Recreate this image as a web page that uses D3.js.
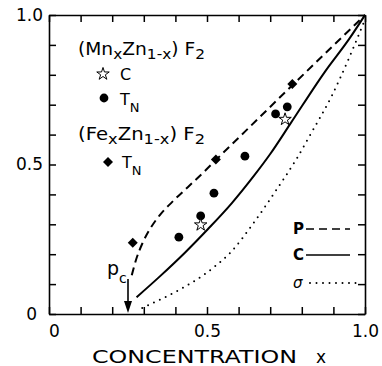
<!DOCTYPE html>
<html>
<head>
<meta charset="utf-8">
<script src="https://cdn.jsdelivr.net/npm/d3@7"></script>
<style>
	body { margin: 0; background: #fff; }
	svg { display: block; font-family: "DejaVu Sans", sans-serif; }
</style>
</head>
<body>
<svg width="382" height="366"></svg>
<script>
const svg = d3.select("svg"),
	width = +svg.attr("width"),
	height = +svg.attr("height");

// values
const tickValues = [0, 0.1, 0.2, 0.3, 0.4, 0.5, 0.6, 0.7, 0.8, 0.9, 1.0];
const labelValues = [0, 0.5, 1.0];
const labelTexts = ["0", "0.5", "1.0"];

const pc = 0.25;

// curves: P (dashed), C (solid), sigma (dotted)
const curveP = [[0.262, 0.13], [0.275, 0.18], [0.295, 0.235], [0.32, 0.285], [0.35, 0.33], [0.39, 0.375], [0.44, 0.425], [0.49, 0.475], [0.528, 0.515], [0.62, 0.61], [0.77, 0.765], [1, 1]];
const curveC = [[0.277, 0.056], [0.35, 0.125], [0.43, 0.205], [0.504, 0.285], [0.578, 0.37], [0.647, 0.46], [0.70, 0.535], [0.763, 0.635], [0.873, 0.81], [0.95, 0.92], [1, 1]];
const curveS = [[0.295, 0.02], [0.378, 0.062], [0.452, 0.105], [0.52, 0.155], [0.578, 0.21], [0.641, 0.295], [0.71, 0.40], [0.784, 0.52], [0.831, 0.607], [0.895, 0.73], [0.947, 0.85], [1, 0.985]];

// (MnxZn1-x)F2 points
const mnTN = [[0.411, 0.257], [0.480, 0.328], [0.522, 0.404], [0.620, 0.528], [0.717, 0.669], [0.754, 0.693]];
const mnC = [[0.480, 0.298], [0.747, 0.651]];
// (FexZn1-x)F2 points
const feTN = [[0.265, 0.238], [0.528, 0.517], [0.770, 0.769]];

const x = d3.scaleLinear().domain([0, 1]).range([49, 365]);
const y = d3.scaleLinear().domain([0, 1]).range([314, 15]);

const fmt = (d) => {
	const i = labelValues.findIndex((v) => Math.abs(v - d) < 1e-6);
	return i < 0 ? "" : labelTexts[i];
};

function styleAxis(g) {
	g.select(".domain").attr("stroke", "#000").attr("stroke-width", 1.6);
	g.selectAll(".tick line").attr("stroke", "#000").attr("stroke-width", 1.5);
	g.selectAll(".tick text")
		.attr("fill", "#000")
		.style("font-size", "17px")
		.style("font-family", "DejaVu Sans, sans-serif");
}

svg.append("g")
	.attr("transform", `translate(0,${y(0)})`)
	.call(d3.axisBottom(x).tickValues(tickValues).tickSizeInner(-7).tickSizeOuter(0).tickPadding(11).tickFormat(fmt))
	.call(styleAxis)
	.call((g) => g.selectAll(".tick text").filter((d) => d === 0).attr("dx", 5));

svg.append("g")
	.attr("transform", `translate(${x(0)},0)`)
	.call(d3.axisLeft(y).tickValues(tickValues).tickSizeInner(-7).tickSizeOuter(0).tickPadding(6).tickFormat(fmt))
	.call(styleAxis)
	.call((g) => g.selectAll(".tick text").filter((d) => d === 0).attr("dx", -6));

svg.append("g")
	.attr("transform", `translate(0,${y(1)})`)
	.call(d3.axisTop(x).tickValues(tickValues).tickSizeInner(-7).tickSizeOuter(0).tickFormat(""))
	.call(styleAxis);

svg.append("g")
	.attr("transform", `translate(${x(1)},0)`)
	.call(d3.axisRight(y).tickValues(tickValues).tickSizeInner(-7).tickSizeOuter(0).tickFormat(""))
	.call(styleAxis);

// axis title
svg.append("text")
	.attr("x", 92)
	.attr("y", 363)
	.attr("textLength", 205)
	.attr("lengthAdjust", "spacingAndGlyphs")
	.style("font-size", "18px")
	.text("CONCENTRATION");
svg.append("text")
	.attr("x", 316)
	.attr("y", 363)
	.style("font-size", "17px")
	.text("x");

// curves
const line = d3.line()
	.x((d) => x(d[0]))
	.y((d) => y(d[1]))
	.curve(d3.curveMonotoneX);

svg.append("path")
	.datum(curveP)
	.attr("d", line)
	.attr("fill", "none")
	.attr("stroke", "#000")
	.attr("stroke-width", 2)
	.attr("stroke-dasharray", "8,5");

svg.append("path")
	.datum(curveC)
	.attr("d", line)
	.attr("fill", "none")
	.attr("stroke", "#000")
	.attr("stroke-width", 2);

svg.append("path")
	.datum(curveS)
	.attr("d", line)
	.attr("fill", "none")
	.attr("stroke", "#000")
	.attr("stroke-width", 2)
	.attr("stroke-linecap", "round")
	.attr("stroke-dasharray", "0,6.5");

// pc arrow
svg.append("line")
	.attr("x1", x(pc))
	.attr("x2", x(pc))
	.attr("y1", 279)
	.attr("y2", 302)
	.attr("stroke", "#000")
	.attr("stroke-width", 1.6);
svg.append("path")
	.attr("d", `M${x(pc) - 4},301L${x(pc) + 4},301L${x(pc)},${y(0) - 1}Z`)
	.attr("fill", "#000");
const pcLabel = svg.append("text").attr("x", 107).attr("y", 275).style("font-size", "19px");
pcLabel.append("tspan").text("p");
pcLabel.append("tspan").attr("dy", 8).style("font-size", "14px").text("c");

// markers
const star = d3.symbol().type(d3.symbolStar).size(48);
const diamond = d3.symbol().type(d3.symbolSquare).size(50);

svg.append("g")
	.selectAll("circle")
	.data(mnTN)
	.join("circle")
	.attr("cx", (d) => x(d[0]))
	.attr("cy", (d) => y(d[1]))
	.attr("r", 4.4)
	.attr("fill", "#000");

svg.append("g")
	.selectAll("path")
	.data(feTN)
	.join("path")
	.attr("d", diamond)
	.attr("transform", (d) => `translate(${x(d[0])},${y(d[1])}) rotate(45)`)
	.attr("fill", "#000");

svg.append("g")
	.selectAll("path")
	.data(mnC)
	.join("path")
	.attr("d", star)
	.attr("transform", (d) => `translate(${x(d[0])},${y(d[1])})`)
	.attr("fill", "#fff")
	.attr("stroke", "#000")
	.attr("stroke-width", 1);

// top-left legend
function formula(yy, el) {
	const t = svg.append("text")
		.attr("x", 78)
		.attr("y", yy)
		.attr("textLength", 127)
		.attr("lengthAdjust", "spacingAndGlyphs")
		.style("font-size", "17px");
	t.append("tspan").text("(" + el);
	t.append("tspan").attr("dy", 4).style("font-size", "14px").text("x");
	t.append("tspan").attr("dy", -4).text("Zn");
	t.append("tspan").attr("dy", 4).style("font-size", "14px").text("1-x");
	t.append("tspan").attr("dy", -4).text(") F");
	t.append("tspan").attr("dy", 4).style("font-size", "14px").text("2");
}
formula(55, "Mn");
formula(140, "Fe");

svg.append("path")
	.attr("d", star)
	.attr("transform", "translate(103,74)")
	.attr("fill", "#fff")
	.attr("stroke", "#000")
	.attr("stroke-width", 1);
svg.append("text").attr("x", 120).attr("y", 80).style("font-size", "16px").text("C");

svg.append("circle").attr("cx", 104).attr("cy", 98).attr("r", 4.4).attr("fill", "#000");
const tn1 = svg.append("text").attr("x", 120).attr("y", 105).style("font-size", "16px");
tn1.append("tspan").text("T");
tn1.append("tspan").attr("dy", 7).style("font-size", "13px").text("N");

svg.append("path")
	.attr("d", diamond)
	.attr("transform", "translate(108,162) rotate(45)")
	.attr("fill", "#000");
const tn2 = svg.append("text").attr("x", 122).attr("y", 168).style("font-size", "16px");
tn2.append("tspan").text("T");
tn2.append("tspan").attr("dy", 7).style("font-size", "13px").text("N");

// bottom-right legend
const legendKeys = ["P", "C", "σ"];
const legendDash = ["8,5", null, "0,6.5"];
const legendY = [229, 255, 283];

legendKeys.forEach(function (k, i) {
	svg.append("text")
		.attr("x", 293)
		.attr("y", legendY[i] + 5)
		.style("font-size", "15px")
		.style("font-weight", k === "σ" ? "normal" : "bold")
		.style("font-style", k === "σ" ? "italic" : "normal")
		.text(k);
	svg.append("line")
		.attr("x1", k === "σ" ? 310 : 306)
		.attr("x2", k === "σ" ? 357 : 350)
		.attr("y1", legendY[i])
		.attr("y2", legendY[i])
		.attr("stroke", "#000")
		.attr("stroke-width", k === "σ" ? 2 : 1.6)
		.attr("stroke-linecap", k === "σ" ? "round" : "butt")
		.attr("stroke-dasharray", legendDash[i]);
});
</script>
</body>
</html>
